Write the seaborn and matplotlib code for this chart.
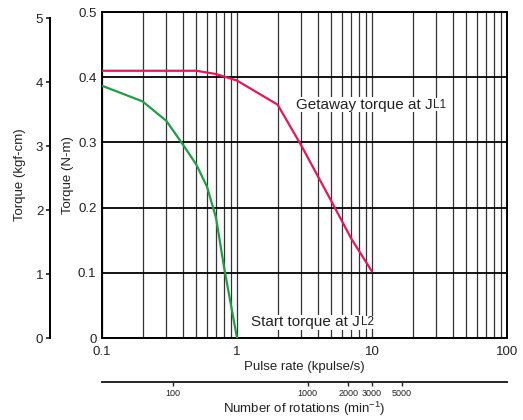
import matplotlib
matplotlib.use("Agg")
import matplotlib.pyplot as plt
from matplotlib.ticker import NullLocator, FixedLocator, NullFormatter
import pandas as pd
import seaborn as sns

# --- data ---
pulse_getaway = [0.1, 0.2, 0.3, 0.5, 0.7, 1.0, 2.0, 3.0, 5.0, 7.0, 10.0]
torque_getaway = [0.41, 0.41, 0.41, 0.41, 0.405, 0.395, 0.358, 0.295, 0.21, 0.153, 0.102]
pulse_start = [0.1, 0.2, 0.3, 0.4, 0.5, 0.6, 0.7, 0.8, 1.0]
torque_start = [0.387, 0.363, 0.333, 0.296, 0.266, 0.232, 0.184, 0.11, 0.0]

x_ticks = [0.1, 1, 10, 100]
x_tick_labels = ["0.1", "1", "10", "100"]
y_ticks = [0, 0.1, 0.2, 0.3, 0.4, 0.5]
y_tick_labels = ["0", "0.1", "0.2", "0.3", "0.4", "0.5"]
kgf_ticks = [0, 1, 2, 3, 4, 5]
rpm_ticks = [100, 1000, 2000, 3000, 5000]

NM_PER_KGFCM = 0.0980665
RPM_PER_KPPS = 300  # 1.8 deg step -> 200 pulses/rev

RED = "#e6165c"
GREEN = "#1f9e44"
INK = "#222222"

sns.set_theme(style="white")
plt.rcParams["font.family"] = ["Liberation Sans", "DejaVu Sans"]

df_get = pd.DataFrame({"pulse": pulse_getaway, "torque": torque_getaway})
df_start = pd.DataFrame({"pulse": pulse_start, "torque": torque_start})

fig = plt.figure(figsize=(5.23, 4.20), dpi=100)
ax = fig.add_axes([0.195, 0.1952, 0.7744, 0.776])

sns.lineplot(data=df_get, x="pulse", y="torque", color=RED, lw=1.6, ax=ax, zorder=4)
sns.lineplot(data=df_start, x="pulse", y="torque", color=GREEN, lw=1.6, ax=ax, zorder=4)

ax.set_xscale("log")
ax.set_xlim(0.1, 100)
ax.set_ylim(0, 0.5)
ax.set_xticks(x_ticks)
ax.set_xticklabels(x_tick_labels)
ax.xaxis.set_minor_formatter(NullFormatter())
ax.set_yticks(y_ticks)
ax.set_yticklabels(y_tick_labels)
ax.tick_params(axis="both", which="both", length=0, labelsize=9.5, colors=INK)
ax.tick_params(axis="x", pad=6)
ax.tick_params(axis="y", pad=4)

ax.set_axisbelow(True)
ax.grid(True, axis="x", which="both", color="#333333", lw=0.9)
ax.grid(True, axis="y", which="major", color="black", lw=1.3)
for sp in ax.spines.values():
    sp.set_color("black")
    sp.set_linewidth(1.4)

ax.set_xlabel("Pulse rate (kpulse/s)", fontsize=9.5, color=INK, labelpad=2)
ax.set_ylabel("Torque (N-m)", fontsize=9.5, color=INK, labelpad=3)

# curve labels with small "L1"/"L2"
box = dict(facecolor="white", edgecolor="none", pad=0.5)
t1 = ax.text(2.73, 0.358, "Getaway torque at J", fontsize=11, color=INK,
             va="center", ha="left", bbox=box, zorder=5)
ax.annotate("L1", xy=(1, 0), xycoords=t1, xytext=(0.3, 0.7), textcoords="offset points",
            fontsize=8.5, color=INK, va="bottom", ha="left", bbox=box, zorder=5)
t2 = ax.text(1.28, 0.024, "Start torque at J", fontsize=11, color=INK,
             va="center", ha="left", bbox=box, zorder=5)
ax.annotate("L2", xy=(1, 0), xycoords=t2, xytext=(0.3, 0.7), textcoords="offset points",
            fontsize=8.5, color=INK, va="bottom", ha="left", bbox=box, zorder=5)

# left axis in kgf-cm
ax2 = ax.twinx()
ax2.set_ylim(0, 0.5 / NM_PER_KGFCM)
ax2.spines["left"].set_position(("axes", -0.128))
ax2.spines["left"].set_bounds(0, 5)
ax2.spines["left"].set_linewidth(1.4)
ax2.spines["left"].set_color("black")
for side in ["right", "top", "bottom"]:
    ax2.spines[side].set_visible(False)
ax2.yaxis.set_ticks_position("left")
ax2.yaxis.set_label_position("left")
ax2.set_yticks(kgf_ticks)
ax2.tick_params(axis="y", direction="out", length=3, width=1.2, labelsize=9.5,
                colors=INK, pad=2)
ax2.set_ylabel("Torque (kgf-cm)", fontsize=9.5, color=INK, labelpad=7)
ax2.grid(False)

# bottom axis in rotations per minute
sec = ax.secondary_xaxis(-0.135, functions=(lambda x: x * RPM_PER_KPPS,
                                            lambda r: r / RPM_PER_KPPS))
sec.xaxis.set_major_locator(FixedLocator(rpm_ticks))
sec.xaxis.set_minor_locator(NullLocator())
sec.set_xticklabels([str(v) for v in rpm_ticks])
sec.tick_params(axis="x", direction="out", length=3, width=1.0, labelsize=6.5,
                colors=INK, pad=2)
sec.spines["bottom"].set_linewidth(1.4)
sec.set_xlabel(r"Number of rotations (min$^{\mathregular{-1}}$)", fontsize=9.5,
               color=INK, labelpad=1)

fig.savefig("out.png", dpi=100)
